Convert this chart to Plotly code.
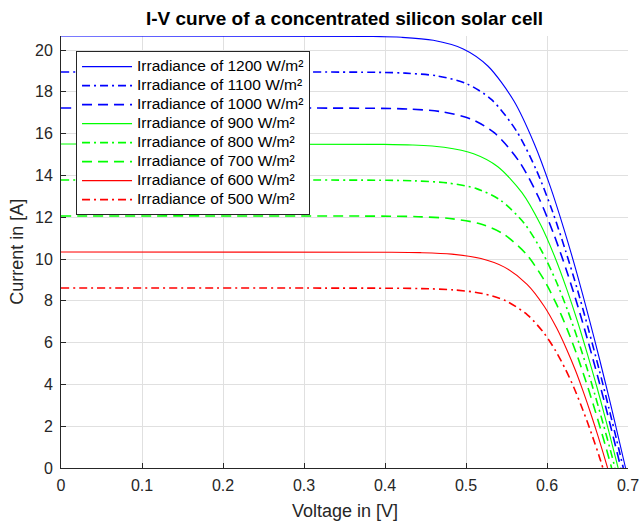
import plotly.graph_objects as go

# Irradiance levels (W/m²)
irradiance = [1200, 1100, 1000, 900, 800, 700, 600, 500]

# Values (voltage in V, current in A)
v_1200 = [0, 0.3851, 0.4204, 0.4596, 0.4966, 0.5273, 0.5590, 0.5844, 0.6043, 0.6214, 0.6370, 0.6514, 0.6651, 0.6782, 0.6883, 0.6970]
i_1200 = [20.67, 20.649, 20.608, 20.463, 20.05, 19.223, 17.570, 15.503, 13.436, 11.369, 9.302, 7.235, 5.168, 3.101, 1.447, 0]

v_1100 = [0, 0.3899, 0.4252, 0.4643, 0.5011, 0.5316, 0.5626, 0.5873, 0.6064, 0.6227, 0.6376, 0.6512, 0.6642, 0.6765, 0.6861, 0.6942]
i_1100 = [18.95, 18.931, 18.893, 18.761, 18.382, 17.624, 16.108, 14.213, 12.318, 10.423, 8.528, 6.633, 4.738, 2.843, 1.327, 0]

v_1000 = [0, 0.3945, 0.4297, 0.4688, 0.5055, 0.5356, 0.5661, 0.5900, 0.6083, 0.6239, 0.6380, 0.6509, 0.6631, 0.6747, 0.6836, 0.6912]
i_1000 = [17.225, 17.208, 17.173, 17.053, 16.708, 16.019, 14.641, 12.919, 11.196, 9.474, 7.751, 6.029, 4.306, 2.584, 1.206, 0]

v_900 = [0, 0.3987, 0.4339, 0.4729, 0.5094, 0.5393, 0.5691, 0.5923, 0.6099, 0.6247, 0.6380, 0.6501, 0.6616, 0.6724, 0.6807, 0.6878]
i_900 = [15.50, 15.485, 15.454, 15.345, 15.035, 14.415, 13.175, 11.625, 10.075, 8.525, 6.975, 5.425, 3.875, 2.325, 1.085, 0]

v_800 = [0, 0.4024, 0.4377, 0.4766, 0.5130, 0.5425, 0.5718, 0.5941, 0.6110, 0.6251, 0.6376, 0.6490, 0.6596, 0.6697, 0.6775, 0.6840]
i_800 = [13.78, 13.766, 13.739, 13.642, 13.367, 12.815, 11.713, 10.335, 8.957, 7.579, 6.201, 4.823, 3.445, 2.067, 0.965, 0]

v_700 = [0, 0.4058, 0.4410, 0.4799, 0.5161, 0.5454, 0.5740, 0.5956, 0.6117, 0.6250, 0.6368, 0.6474, 0.6573, 0.6666, 0.6738, 0.6798]
i_700 = [12.06, 12.048, 12.024, 11.939, 11.698, 11.216, 10.251, 9.045, 7.839, 6.633, 5.427, 4.221, 3.015, 1.809, 0.844, 0]

v_600 = [0, 0.4084, 0.4436, 0.4824, 0.5185, 0.5474, 0.5754, 0.5963, 0.6116, 0.6242, 0.6353, 0.6451, 0.6542, 0.6628, 0.6693, 0.6748]
i_600 = [10.335, 10.325, 10.304, 10.232, 10.025, 9.612, 8.785, 7.751, 6.718, 5.684, 4.651, 3.617, 2.584, 1.550, 0.723, 0]

v_500 = [0, 0.4102, 0.4453, 0.4841, 0.5201, 0.5487, 0.5761, 0.5962, 0.6108, 0.6226, 0.6329, 0.6419, 0.6503, 0.6581, 0.6641, 0.6690]
i_500 = [8.61, 8.601, 8.584, 8.524, 8.352, 8.007, 7.319, 6.458, 5.597, 4.736, 3.875, 3.014, 2.153, 1.292, 0.603, 0]

x_ticks = [0, 0.1, 0.2, 0.3, 0.4, 0.5, 0.6, 0.7]
x_tick_labels = ["0", "0.1", "0.2", "0.3", "0.4", "0.5", "0.6", "0.7"]
y_ticks = [0, 2, 4, 6, 8, 10, 12, 14, 16, 18, 20]

voltages = [v_1200, v_1100, v_1000, v_900, v_800, v_700, v_600, v_500]
currents = [i_1200, i_1100, i_1000, i_900, i_800, i_700, i_600, i_500]

colors = ["#0000ff", "#0000ff", "#0000ff", "#00ff00", "#00ff00", "#00ff00", "#ff0000", "#ff0000"]
dash_solid = "solid"
dash_dashdot = "8px,4px,2px,4px"
dash_dash = "10px,6px"
dashes = [dash_solid, dash_dashdot, dash_dash, dash_solid, dash_dashdot, dash_dash, dash_solid, dash_dashdot]
widths = [1.1, 1.6, 1.6, 1.1, 1.6, 1.6, 1.1, 1.6]

FONT = "Liberation Sans, Arial, Helvetica, sans-serif"
AX = "#262626"
GRID = "#e0e0e0"

fig = go.Figure()
for g, v, i, c, d, w in zip(irradiance, voltages, currents, colors, dashes, widths):
    fig.add_trace(go.Scatter(
        x=v, y=i, mode="lines",
        name=f'<span style="font-size:15.5px">Irradiance of {g} W/m²</span>',
        line=dict(color=c, dash=d, width=w, shape="spline", smoothing=0.8),
    ))

fig.update_layout(
    width=641, height=524,
    margin=dict(l=61, r=13, t=36, b=56, autoexpand=False),
    paper_bgcolor="white", plot_bgcolor="white",
    font=dict(family=FONT, size=16, color=AX),
    title=dict(text="<b>I-V curve of a concentrated silicon solar cell</b>",
               x=0.5, xref="paper", y=1 - 18 / 524, yref="container",
               xanchor="center", yanchor="middle",
               font=dict(family=FONT, size=19, color="#000000")),
    showlegend=True,
    legend=dict(x=0.0265, y=0.965, xanchor="left", yanchor="top",
                bgcolor="white", bordercolor=AX, borderwidth=1,
                font=dict(family=FONT, size=12, color="#000000"),
                itemwidth=50, tracegroupgap=0),
    xaxis=dict(range=[0, 0.7], tickvals=x_ticks, ticktext=x_tick_labels,
               automargin=False,
               showgrid=True, gridcolor=GRID, gridwidth=1,
               showline=True, linecolor=AX, linewidth=1,
               ticks="inside", ticklen=5, tickcolor=AX, tickwidth=1,
               ticklabelstandoff=3,
               zeroline=False, tickfont=dict(size=16, color=AX)),
    yaxis=dict(range=[0, 20.67], tickvals=y_ticks,
               automargin=False,
               showgrid=True, gridcolor=GRID, gridwidth=1,
               showline=True, linecolor=AX, linewidth=1,
               ticks="inside", ticklen=5, tickcolor=AX, tickwidth=1,
               ticklabelstandoff=4,
               zeroline=False, tickfont=dict(size=16, color=AX)),
    annotations=[
        dict(text="Voltage in [V]", xref="paper", yref="paper", x=0.5, y=-0.0995,
             xanchor="center", yanchor="middle", showarrow=False,
             font=dict(family=FONT, size=18, color=AX)),
        dict(text="Current in [A]", xref="paper", yref="paper", x=-0.078, y=0.5,
             xanchor="center", yanchor="middle", showarrow=False, textangle=-90,
             font=dict(family=FONT, size=18, color=AX)),
    ],
)

fig.write_html("out.html")
